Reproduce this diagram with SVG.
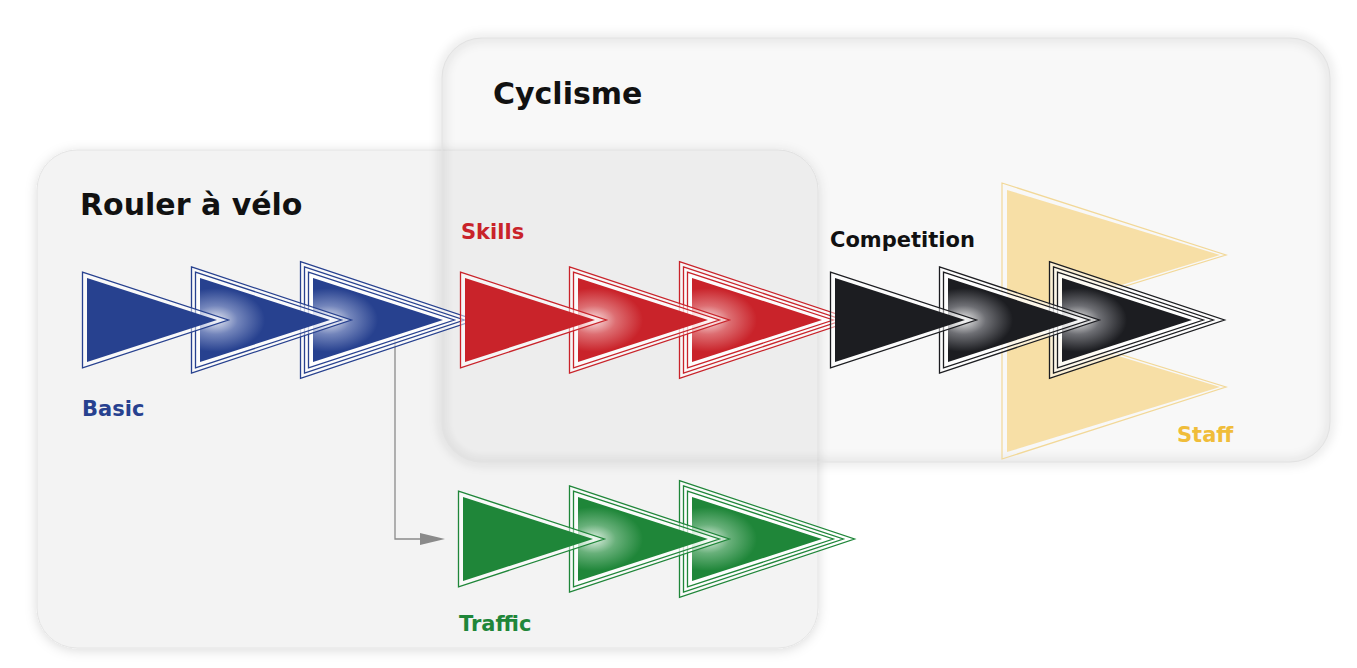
<svg xmlns="http://www.w3.org/2000/svg" xmlns:xlink="http://www.w3.org/1999/xlink" width="1357" height="668" viewBox="0 0 1357 668">
<style>
.lbl{font-family:"DejaVu Sans","Liberation Sans",sans-serif;font-weight:bold;font-size:21px}
.ttl{font-family:"DejaVu Sans","Liberation Sans",sans-serif;font-weight:bold;font-size:30px;fill:#111}
.ob{fill:#fff;fill-opacity:.5;stroke:#27418f;stroke-width:1.3}
.or{fill:#fff;fill-opacity:.5;stroke:#c9232a;stroke-width:1.3}
.ok{fill:#fff;fill-opacity:.5;stroke:#1c1d21;stroke-width:1.3}
.og{fill:#fff;fill-opacity:.5;stroke:#1f8639;stroke-width:1.3}
.fb{fill:#27418f}.gb{fill:url(#glowB)}
.fr{fill:#c9232a}.gr{fill:url(#glowR)}
.fk{fill:#1c1d21}.gk{fill:url(#glowK)}
.fg{fill:#1f8639}.gg{fill:url(#glowG)}
.conn{fill:none;stroke:#8a8a8a;stroke-width:1.3}
</style>
<defs>
<filter id="sh" x="-10%" y="-10%" width="120%" height="120%">
<feDropShadow dx="0" dy="2" stdDeviation="6" flood-color="#000" flood-opacity="0.14"/>
</filter>
<filter id="blur" x="-10%" y="-10%" width="120%" height="120%">
<feGaussianBlur stdDeviation="5"/>
</filter>
<radialGradient id="glowB" cx="0.12" cy="0.5" r="0.38"><stop offset="0" stop-color="#e6e9f3"/><stop offset="0.45" stop-color="#7385bb"/><stop offset="1" stop-color="#27418f"/></radialGradient>
<radialGradient id="glowR" cx="0.12" cy="0.5" r="0.38"><stop offset="0" stop-color="#f8e2e2"/><stop offset="0.45" stop-color="#dd6e72"/><stop offset="1" stop-color="#c9232a"/></radialGradient>
<radialGradient id="glowK" cx="0.12" cy="0.5" r="0.38"><stop offset="0" stop-color="#ececec"/><stop offset="0.45" stop-color="#6e6f74"/><stop offset="1" stop-color="#1c1d21"/></radialGradient>
<radialGradient id="glowG" cx="0.12" cy="0.5" r="0.38"><stop offset="0" stop-color="#e2f1e5"/><stop offset="0.45" stop-color="#68b07a"/><stop offset="1" stop-color="#1f8639"/></radialGradient>
<polygon id="t" points="0,-42 130,0 0,42"/>
<polygon id="o1" points="-4.5,-47.9 141.3,0 -4.5,47.9"/>
<polygon id="o2" points="-8.5,-53.1 151.3,0 -8.5,53.1"/>
<polygon id="o3" points="-12.5,-58.3 162.5,0 -12.5,58.3"/>
</defs>
<rect width="1357" height="668" fill="#fff"/>

<g id="panel-rouler">
<rect x="37" y="150" width="781" height="498" rx="40" fill="#f3f3f3" stroke="#e4e4e4" stroke-width="1" filter="url(#sh)"/>
<text class="ttl" x="80" y="215">Rouler à vélo</text>
</g>

<g id="panel-cyclisme">
<rect x="442" y="38" width="888" height="424" rx="40" fill="none" stroke="#000" stroke-opacity="0.09" stroke-width="8" filter="url(#blur)"/>
<rect x="442" y="38" width="888" height="424" rx="40" fill="#cfcfcf" fill-opacity="0.15" stroke="#e2e2e2" stroke-width="1"/>
<text class="ttl" x="493" y="104">Cyclisme</text>
</g>

<g id="connectors">
<polyline class="conn" points="395,340 395,539 421,539"/>
<polygon points="420,533 445,539 420,545" fill="#8a8a8a"/>
</g>

<g id="node-staff">
<polygon points="1007,190 1220,255 1007,320" fill="#f6dc9c" fill-opacity="0.9"/>
<polygon points="1007,322 1220,387 1007,452" fill="#f6dc9c" fill-opacity="0.9"/>
<polygon points="1002,183 1226,255 1012,321 1226,387 1002,459" fill="none" stroke="#f2d898" stroke-width="1.2"/>
<text class="lbl" x="1177" y="442" fill="#f0bd3a">Staff</text>
</g>

<g id="node-basic">
<use href="#o3" x="313" y="320" class="ob"/><use href="#o2" x="313" y="320" class="ob"/><use href="#o1" x="313" y="320" class="ob"/><use href="#t" x="313" y="320" class="gb"/>
<use href="#o2" x="200" y="320" class="ob"/><use href="#o1" x="200" y="320" class="ob"/><use href="#t" x="200" y="320" class="gb"/>
<use href="#o1" x="87" y="320" class="ob"/><use href="#t" x="87" y="320" class="fb"/>
<text class="lbl" x="82" y="416" fill="#27418f">Basic</text>
</g>

<g id="node-traffic">
<use href="#o3" x="692" y="539" class="og"/><use href="#o2" x="692" y="539" class="og"/><use href="#o1" x="692" y="539" class="og"/><use href="#t" x="692" y="539" class="gg"/>
<use href="#o2" x="578" y="539" class="og"/><use href="#o1" x="578" y="539" class="og"/><use href="#t" x="578" y="539" class="gg"/>
<use href="#o1" x="463" y="539" class="og"/><use href="#t" x="463" y="539" class="fg"/>
<text class="lbl" x="459" y="631" fill="#1f8639">Traffic</text>
</g>

<g id="node-skills">
<use href="#o3" x="692" y="320" class="or"/><use href="#o2" x="692" y="320" class="or"/><use href="#o1" x="692" y="320" class="or"/><use href="#t" x="692" y="320" class="gr"/>
<use href="#o2" x="578" y="320" class="or"/><use href="#o1" x="578" y="320" class="or"/><use href="#t" x="578" y="320" class="gr"/>
<use href="#o1" x="465" y="320" class="or"/><use href="#t" x="465" y="320" class="fr"/>
<text class="lbl" x="461" y="239" fill="#c9232a">Skills</text>
</g>

<g id="node-competition">
<use href="#o3" x="1062" y="320" class="ok"/><use href="#o2" x="1062" y="320" class="ok"/><use href="#o1" x="1062" y="320" class="ok"/><use href="#t" x="1062" y="320" class="gk"/>
<use href="#o2" x="948" y="320" class="ok"/><use href="#o1" x="948" y="320" class="ok"/><use href="#t" x="948" y="320" class="gk"/>
<use href="#o1" x="835" y="320" class="ok"/><use href="#t" x="835" y="320" class="fk"/>
<text class="lbl" x="830" y="247" fill="#111">Competition</text>
</g>
</svg>
